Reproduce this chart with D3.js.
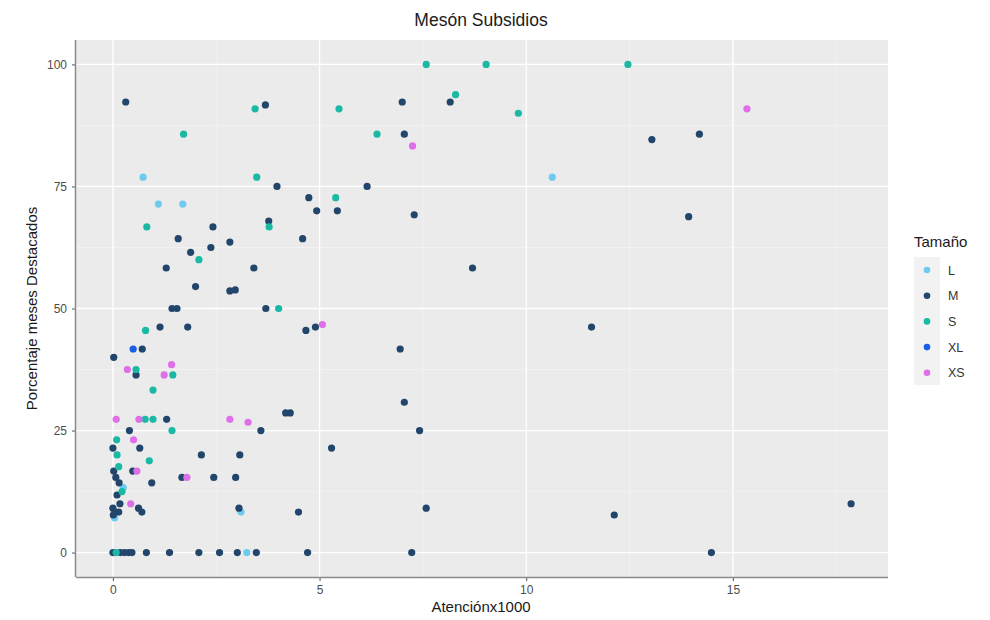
<!DOCTYPE html>
<html><head><meta charset="utf-8">
<script src="https://cdn.jsdelivr.net/npm/d3@7"></script>
<style>body{margin:0;background:#fff;font-family:"Liberation Sans",Arial,sans-serif}</style>
</head><body><svg id="c" width="990" height="620"></svg>
<script>
const categories = ["L","M","S","XL","XS"];
const colors = ["#6ecbf0","#22466b","#19b9a3","#1a5ee6","#df6fe8"];
const xTicks = [0,5,10,15];
const yTicks = [0,25,50,75,100];

const seriesL = [[0.73,76.9],[1.10,71.4],[1.69,71.4],[10.63,76.9],[0.25,13.3],[0.04,7.1],[3.10,8.3],[3.24,0]];
const seriesM = [[0.31,92.3],[3.69,91.7],[3.97,75],[6.15,75],[4.74,72.7],[4.93,70],[5.43,70],[3.77,67.9],[2.42,66.7],[1.58,64.3],[4.59,64.3],[2.83,63.6],[2.37,62.5],[1.88,61.5],[1.29,58.3],[3.41,58.3],[2.00,54.5],[2.83,53.6],[2.96,53.8],[1.43,50],[1.55,50],[3.70,50],
 [7.00,92.3],[8.16,92.3],[7.05,85.7],[7.29,69.2],[8.70,58.3],
 [13.04,84.6],[14.19,85.7],[13.93,68.8],[11.58,46.2],[12.13,7.7],[14.48,0],[17.86,10],
 [4.67,45.5],[4.90,46.2],[6.95,41.7],[7.05,30.8],[4.18,28.6],[4.29,28.6],[3.58,25],[7.42,25],[5.29,21.4],[4.49,8.3],[7.58,9.1],[3.47,0],[4.71,0],[7.23,0],
 [1.14,46.2],[1.81,46.2],[0.71,41.7],[0.02,40],[0.56,36.4],[1.30,27.3],[0.40,25],[0,21.4],[0.65,21.4],[2.14,20],[3.07,20],[0.02,16.7],[0.48,16.7],[0.07,15.4],[1.67,15.4],[2.44,15.4],[2.97,15.4],[0.15,14.3],[0.94,14.3],[0.10,11.8],[0.17,10],[0,9.1],[0.62,9.1],[0.05,8.3],[0.14,8.3],[0.70,8.3],[0.01,7.7],[3.05,9.1],
 [0,0],[0.18,0],[0.28,0],[0.38,0],[0.46,0],[0.81,0],[1.37,0],[2.08,0],[2.58,0],[3.01,0]];
const seriesS = [[3.44,90.9],[5.47,90.9],[1.71,85.7],[3.48,76.9],[5.39,72.7],[0.82,66.7],[3.78,66.7],[2.08,60],[4.01,50],[7.58,100],[9.03,100],[8.29,93.8],[9.81,90],[6.39,85.7],[12.46,100],[0.79,45.5],[0.56,37.5],[1.45,36.4],[0.97,33.3],[0.78,27.3],[0.97,27.3],[1.43,25],[0.09,23.1],[0.10,20],[0.88,18.8],[0.14,17.6],[0.22,12.5],[0.08,0]];
const seriesXL = [[0.49,41.7]];
const seriesXS = [[7.25,83.3],[15.34,90.9],[5.07,46.7],[0.35,37.5],[1.42,38.5],[1.24,36.4],[0.08,27.3],[0.63,27.3],[2.83,27.3],[3.27,26.7],[0.50,23.1],[0.58,16.7],[1.79,15.4],[0.43,10]];
const seriesAll = [seriesL, seriesM, seriesS, seriesXL, seriesXS];

const svg = d3.select("#c");
const P = {l:76, r:888, t:40, b:577};
const allX = seriesAll.flat().map(d=>d[0]);
const xmin = 0, xmax = d3.max(allX);
const xpad = (xmax-xmin)*0.05;
const x = d3.scaleLinear().domain([xmin-xpad, xmax+xpad]).range([P.l,P.r]);
const y = d3.scaleLinear().domain([-5,105]).range([P.b,P.t]);

svg.append("rect").attr("x",P.l).attr("y",P.t).attr("width",P.r-P.l).attr("height",P.b-P.t).attr("fill","#ebebeb");
const g = svg.append("g");
const xMinor = [2.5,7.5,12.5,17.5], yMinor=[12.5,37.5,62.5,87.5];
g.selectAll(".xm").data(xMinor).enter().append("line").attr("x1",d=>x(d)).attr("x2",d=>x(d)).attr("y1",P.t).attr("y2",P.b).attr("stroke","#f5f5f5").attr("stroke-width",0.6);
g.selectAll(".ym").data(yMinor).enter().append("line").attr("y1",d=>y(d)).attr("y2",d=>y(d)).attr("x1",P.l).attr("x2",P.r).attr("stroke","#f5f5f5").attr("stroke-width",0.6);
g.selectAll(".xg").data(xTicks).enter().append("line").attr("x1",d=>x(d)).attr("x2",d=>x(d)).attr("y1",P.t).attr("y2",P.b).attr("stroke","#fff").attr("stroke-width",1.3);
g.selectAll(".yg").data(yTicks).enter().append("line").attr("y1",d=>y(d)).attr("y2",d=>y(d)).attr("x1",P.l).attr("x2",P.r).attr("stroke","#fff").attr("stroke-width",1.3);

const xAxis = svg.append("g").attr("transform",`translate(0,${P.b})`)
  .call(d3.axisBottom(x).tickValues(xTicks).tickSize(4).tickPadding(4));
const yAxis = svg.append("g").attr("transform",`translate(${P.l},0)`)
  .call(d3.axisLeft(y).tickValues(yTicks).tickSize(4).tickPadding(5));
[xAxis,yAxis].forEach(a=>{
  a.select(".domain").remove();
  a.selectAll(".tick line").attr("stroke","#555");
  a.selectAll(".tick text").attr("fill","#4d4d4d").style("font-size","12px").style("font-family","Liberation Sans, Arial, sans-serif");
});
svg.append("line").attr("x1",P.l).attr("x2",P.r).attr("y1",P.b+0.5).attr("y2",P.b+0.5).attr("stroke","#8a8a8a").attr("stroke-width",1.5);
svg.append("line").attr("x1",P.l-0.5).attr("x2",P.l-0.5).attr("y1",P.t).attr("y2",P.b).attr("stroke","#8a8a8a").attr("stroke-width",1.5);

seriesAll.forEach((s,i)=>{
  svg.append("g").selectAll("circle").data(s).enter().append("circle")
    .attr("cx",d=>x(d[0])).attr("cy",d=>y(d[1])).attr("r",3.6).attr("fill",colors[i]);
});

svg.append("text").attr("x",481).attr("y",26).attr("text-anchor","middle").style("font-size","17.5px").attr("fill","#1a1a1a").text("Mesón Subsidios");
svg.append("text").attr("x",481).attr("y",612).attr("text-anchor","middle").style("font-size","15px").attr("fill","#1a1a1a").text("Atenciónx1000");
svg.append("text").attr("transform",`translate(37,${(P.t+P.b)/2}) rotate(-90)`).attr("text-anchor","middle").style("font-size","15px").attr("fill","#1a1a1a").text("Porcentaje meses Destacados");

const lg = svg.append("g");
lg.append("text").attr("x",914).attr("y",247).style("font-size","15px").attr("fill","#1a1a1a").text("Tamaño");
lg.append("rect").attr("x",914).attr("y",257).attr("width",26).attr("height",128).attr("fill","#f2f2f2");
categories.forEach((c,i)=>{
  const cy = 270 + i*25.7;
  lg.append("circle").attr("cx",927).attr("cy",cy).attr("r",3.3).attr("fill",colors[i]);
  lg.append("text").attr("x",948).attr("y",cy+4.5).style("font-size","12.5px").attr("fill","#333").text(c);
});
</script></body></html>
